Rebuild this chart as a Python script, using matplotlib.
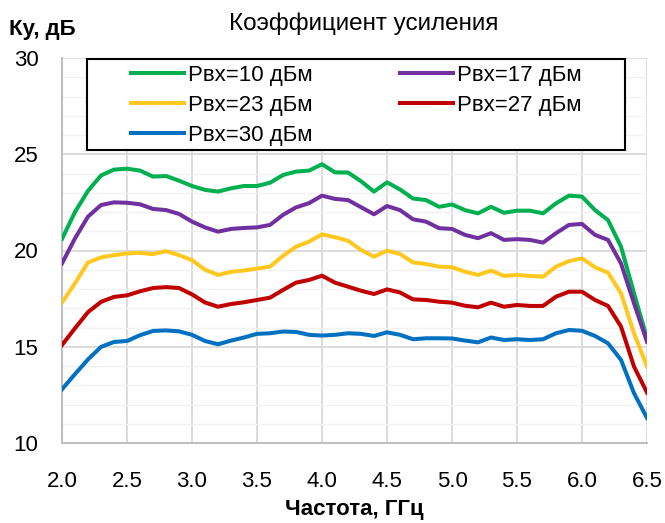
import matplotlib
matplotlib.use("Agg")
import matplotlib.pyplot as plt
from matplotlib.patches import Rectangle

plt.rcParams['font.family'] = ['Liberation Sans', 'DejaVu Sans']

## frequency grid, GHz ##
freq = [2.0 + 0.1 * i for i in range(46)]

## gain curves, dB ##
gain_10 = [20.6, 22.0, 23.1, 23.9, 24.2, 24.25, 24.15, 23.84, 23.87, 23.63, 23.35, 23.15,
           23.06, 23.23, 23.35, 23.35, 23.52, 23.92, 24.1, 24.15, 24.48, 24.06, 24.05, 23.6,
           23.06, 23.54, 23.17, 22.7, 22.62, 22.27, 22.39, 22.1, 21.93, 22.27, 21.96, 22.07,
           22.07, 21.93, 22.45, 22.85, 22.8, 22.1, 21.58, 20.2, 17.78, 15.44]
gain_17 = [19.33, 20.63, 21.76, 22.36, 22.5, 22.48, 22.4, 22.16, 22.1, 21.9, 21.5, 21.2,
           20.98, 21.12, 21.17, 21.2, 21.33, 21.85, 22.24, 22.46, 22.85, 22.68, 22.62, 22.25,
           21.88, 22.31, 22.1, 21.62, 21.5, 21.16, 21.12, 20.81, 20.64, 20.9, 20.55, 20.59,
           20.55, 20.41, 20.9, 21.33, 21.38, 20.81, 20.55, 19.33, 17.26, 15.26]
gain_23 = [17.29, 18.3, 19.38, 19.64, 19.76, 19.85, 19.88, 19.81, 19.97, 19.76, 19.5, 19.0,
           18.73, 18.89, 18.96, 19.06, 19.16, 19.72, 20.2, 20.46, 20.84, 20.69, 20.51, 20.03,
           19.68, 19.99, 19.82, 19.38, 19.3, 19.16, 19.13, 18.9, 18.73, 18.96, 18.68, 18.73,
           18.68, 18.64, 19.16, 19.45, 19.59, 19.13, 18.85, 17.78, 15.7, 13.97]
gain_27 = [15.09, 15.96, 16.8, 17.33, 17.59, 17.67, 17.88, 18.05, 18.1, 18.05, 17.72, 17.3,
           17.08, 17.22, 17.31, 17.43, 17.55, 17.95, 18.33, 18.47, 18.69, 18.33, 18.12, 17.91,
           17.74, 17.98, 17.82, 17.46, 17.43, 17.34, 17.29, 17.13, 17.05, 17.29, 17.08, 17.17,
           17.12, 17.12, 17.6, 17.86, 17.86, 17.43, 17.12, 16.05, 13.97, 12.62]
gain_30 = [12.79, 13.58, 14.34, 14.99, 15.25, 15.3, 15.6, 15.82, 15.85, 15.8, 15.62, 15.3,
           15.13, 15.32, 15.48, 15.67, 15.7, 15.79, 15.77, 15.62, 15.58, 15.62, 15.7, 15.67,
           15.56, 15.75, 15.62, 15.39, 15.44, 15.44, 15.43, 15.32, 15.23, 15.48, 15.35, 15.39,
           15.35, 15.39, 15.7, 15.87, 15.83, 15.56, 15.18, 14.32, 12.59, 11.3]

labels = ["Рвх=10 дБм", "Рвх=17 дБм", "Рвх=23 дБм", "Рвх=27 дБм", "Рвх=30 дБм"]
colors = ["#00B050", "#7030A0", "#FFC820", "#C00000", "#0070C0"]
series = [gain_10, gain_17, gain_23, gain_27, gain_30]

x_ticks = [2.0, 2.5, 3.0, 3.5, 4.0, 4.5, 5.0, 5.5, 6.0, 6.5]
y_ticks = [10, 15, 20, 25, 30]

fig = plt.figure(figsize=(6.65, 5.23), dpi=100)
ax = fig.add_axes([62 / 665, 80 / 523, 585 / 665, 385 / 523])

handles = []
for vals, col, lab in zip(series, colors, labels):
    h, = ax.plot(freq, vals, color=col, lw=2.9, label=lab, solid_joinstyle='round', zorder=3)
    handles.append(h)

ax.set_xlim(2.0, 6.5)
ax.set_ylim(10, 30)
ax.set_xticks(x_ticks)
ax.set_xticklabels([f"{t:.1f}" for t in x_ticks])
ax.set_yticks(y_ticks)
ax.set_yticks(range(10, 31), minor=True)
ax.tick_params(axis='both', which='both', length=0, labelsize=16, colors='black')
ax.tick_params(axis='x', pad=20)
ax.tick_params(axis='y', pad=17)

ax.grid(True, which='major', color='#D9D9D9', lw=1.3, zorder=0)
ax.grid(True, which='minor', axis='y', color='#F2F2F2', lw=1.0, zorder=0)
for side in ['top', 'right']:
    ax.spines[side].set_visible(False)
for side in ['left', 'bottom']:
    ax.spines[side].set_color('#BFBFBF')
    ax.spines[side].set_linewidth(1.5)

ax.set_xlabel("Частота, ГГц", fontsize=16, fontweight='bold', labelpad=5)
fig.text(9 / 665, 1 - 30 / 523, "Ку, дБ", fontsize=16, fontweight='bold', va='center', ha='left')
fig.text(364 / 665, 1 - 24 / 523, "Коэффициент усиления", fontsize=17.5, va='center', ha='center')

## legend box drawn by hand so the padding matches ##
box = Rectangle((87 / 665, 1 - 149.5 / 523), 538 / 665, 90.5 / 523, transform=fig.transFigure,
                facecolor='white', edgecolor='black', lw=1.5, zorder=5)
fig.patches.append(box)
## row-wise order like the original: 10 | 17, 23 | 27, 30 ##
order = [0, 2, 4, 1, 3]
leg = fig.legend(handles=[handles[i] for i in order], loc='upper left',
                 bbox_to_anchor=(131 / 665, 1 - 65 / 523),
                 ncol=2, frameon=False, fontsize=16, handlelength=2.4, handletextpad=0.18,
                 columnspacing=3.9, labelspacing=0.41, borderpad=0, borderaxespad=0)
leg.set_zorder(6)

fig.savefig("out.png", dpi=100)
